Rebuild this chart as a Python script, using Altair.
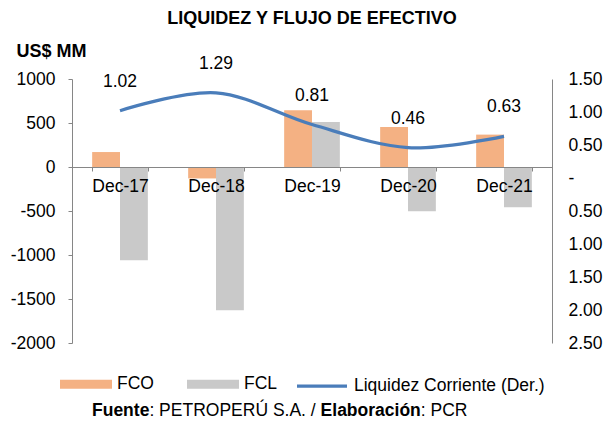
import altair as alt
import pandas as pd

cats = ["Dec-17", "Dec-18", "Dec-19", "Dec-20", "Dec-21"]
fco = [170, -130, 645, 455, 368]
fcl = [-1060, -1628, 511, -503, -458]
liq = [1.02, 1.29, 0.81, 0.46, 0.63]
liq_labels = ["1.02", "1.29", "0.81", "0.46", "0.63"]
series = ["FCO", "FCL"]
series_colors = ["#F4B183", "#C9C9C9"]
line_name = "Liquidez Corriente (Der.)"
line_color = "#4A7DBA"
left_ticks = [-2000, -1500, -1000, -500, 0, 500, 1000]
right_ticks = [-2.5, -2.0, -1.5, -1.0, -0.5, 0, 0.5, 1.0, 1.5]

FONT = "Liberation Sans"
GRAY = "#868686"
FS = 17.5

bars_df = pd.DataFrame({
    "cat": cats * 2,
    "serie": [series[0]] * len(cats) + [series[1]] * len(cats),
    "val": fco + fcl,
})
line_df = pd.DataFrame({"cat": cats, "liq": liq, "lbl": liq_labels, "name": line_name})

x_enc = alt.X(
    "cat:N", sort=cats, title=None,
    scale=alt.Scale(paddingInner=0.42, paddingOuter=0.21),
    axis=alt.Axis(offset=-176, domainColor=GRAY, tickColor=GRAY, tickSize=4,
                  tickBand="extent", labelAngle=0, labelFontSize=FS, labelColor="black",
                  labelPadding=6, zindex=1),
)

bars = alt.Chart(bars_df).mark_bar().encode(
    x=x_enc,
    xOffset=alt.XOffset("serie:N", sort=series, scale=alt.Scale(paddingInner=0, paddingOuter=0)),
    y=alt.Y("val:Q", scale=alt.Scale(domain=[-2000, 1000], nice=False, zero=False),
            axis=alt.Axis(values=left_ticks, labelExpr="datum.value + ''", title="US$ MM",
                          titleAngle=0, titleX=-56, titleY=-28,
                          titleAlign="left", titleBaseline="middle", titleFontSize=18,
                          titleFontWeight="bold", titleColor="black", grid=False,
                          domainColor=GRAY, tickColor=GRAY, tickSize=4, labelPadding=13,
                          labelFontSize=FS, labelColor="black")),
    fill=alt.Fill("serie:N", scale=alt.Scale(domain=series, range=series_colors),
                  legend=alt.Legend(orient="none", legendX=-12, legendY=279, direction="horizontal",
                                    title=None, symbolType="M-1,-0.17L1,-0.17L1,0.17L-1,0.17Z",
                                    symbolSize=2704, symbolStrokeWidth=0, labelFontSize=FS,
                                    labelColor="black", labelOffset=5, columnPadding=33, padding=0)),
)

y_right = alt.Y("liq:Q", scale=alt.Scale(domain=[-2.5, 1.5], nice=False, zero=False),
                axis=alt.Axis(orient="right", values=right_ticks, title=None,
                              labelExpr="datum.value == 0 ? '-' : format(abs(datum.value), '.2f')",
                              ticks=False, labelPadding=16, labelAlign="left", domainColor=GRAY,
                              grid=False, labelFontSize=FS, labelColor="black"))

line = alt.Chart(line_df).mark_line(interpolate="cardinal", strokeWidth=3.25).encode(
    x=x_enc,
    y=y_right,
    stroke=alt.Stroke("name:N", scale=alt.Scale(domain=[line_name], range=[line_color]),
                      legend=alt.Legend(orient="none", legendX=223, legendY=280, title=None,
                                        symbolType="stroke", symbolSize=2500, symbolStrokeWidth=3.25,
                                        labelFontSize=FS, labelColor="black", labelOffset=5,
                                        labelLimit=400, padding=0)),
)
labels = alt.Chart(line_df).mark_text(dy=-29, fontSize=FS, color="black").encode(
    x=x_enc, y=y_right, text="lbl:N"
)

one = pd.DataFrame({"a": [0]})
def foot(txt, xpos, bold):
    return alt.Chart(one).mark_text(text=txt, align="left", baseline="middle", fontSize=FS,
                                    fontWeight="bold" if bold else "normal", color="black").encode(
        x=alt.value(xpos), y=alt.value(332))

footer = [
    foot("Fuente", 20, True),
    foot(": PETROPERÚ S.A. / ", 77.4, False),
    foot("Elaboración", 248.6, True),
    foot(": PCR", 348.8, False),
]

chart = alt.layer(bars, alt.layer(line, labels), *footer).resolve_scale(y="independent").properties(
    width=480, height=264,
    title=alt.TitleParams("LIQUIDEZ Y FLUJO DE EFECTIVO", fontSize=18, fontWeight="bold",
                          anchor="middle", offset=14, color="black", font=FONT),
    autosize=alt.AutoSizeParams(type="none"),
    padding={"left": 64, "top": 71, "right": 56, "bottom": 82},
).configure(font=FONT).configure_view(stroke=None)

chart.save("out.html", embed_options={"renderer": "svg", "actions": False})
